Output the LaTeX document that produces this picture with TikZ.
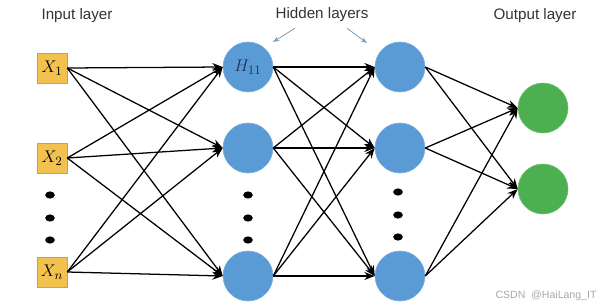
\documentclass[tikz,border=0pt]{standalone}
\usepackage{fontspec}
\setmainfont{Liberation Sans}
\usetikzlibrary{arrows.meta}
\definecolor{inboxc}{HTML}{F2C14E}
\definecolor{inboxedge}{HTML}{C9A24A}
\definecolor{hidc}{HTML}{5B9BD5}
\definecolor{outc}{HTML}{4CAF50}
\definecolor{labelc}{HTML}{333333}
\definecolor{pointc}{HTML}{7F9FB8}
\definecolor{markc}{HTML}{A8A8A8}
\definecolor{hname}{HTML}{1F2F5A}

\begin{document}
\begin{tikzpicture}[
  font=\fontsize{10.8}{13}\selectfont,
  inbox/.style={draw=inboxedge, fill=inboxc, minimum size=0.75cm, inner sep=0pt, font=\fontsize{13}{14}\selectfont},
  hidnode/.style={circle, fill=hidc, draw=hidc!80!white, minimum size=1.25cm, inner sep=0pt, font=\fontsize{13}{14}\selectfont},
  outnode/.style={circle, fill=outc, draw=outc!80!white, minimum size=1.25cm, inner sep=0pt},
  link/.style={-{Stealth[length=2.6mm,width=2mm]}, line width=0.9pt, draw=black},
  pointer/.style={-{Stealth[length=1.6mm,width=1.2mm]}, line width=0.6pt, draw=pointc}
]

\useasboundingbox (0,0) rectangle (15,-7.675);

% Layer titles
\node[text=labelc] (inlab) at (1.925,-0.4) {Input layer};
\node[text=labelc] (hidlab) at (8.05,-0.375) {Hidden layers};
\node[text=labelc] (outlab) at (13.375,-0.4) {Output layer};

% Input layer
\node[inbox] (x1) at (1.3,-1.7) {$X_1$};
\node[inbox] (x2) at (1.3,-3.95) {$X_2$};
\node[inbox] (xn) at (1.3,-6.8) {$X_n$};

% Hidden layer 1
\node[hidnode, text=hname] (h11) at (6.2,-1.675) {$H_{11}$};
\node[hidnode] (h12) at (6.2,-3.7) {};
\node[hidnode] (h1n) at (6.2,-6.9) {};

% Hidden layer 2
\node[hidnode] (h21) at (10,-1.675) {};
\node[hidnode] (h22) at (10,-3.7) {};
\node[hidnode] (h2n) at (10,-6.9) {};

% Output layer
\node[outnode] (o1) at (13.575,-2.7) {};
\node[outnode] (o2) at (13.575,-4.725) {};

% Vertical dots
\foreach \x/\y in {1.25/-4.875, 1.25/-5.45, 1.25/-6.0, 6.2/-4.875, 6.2/-5.45, 6.2/-6.0, 9.95/-4.8, 9.95/-5.375, 9.95/-5.925} {
  \fill[black] (\x,\y) ellipse (0.12 and 0.09);
}

% Connections
\foreach \a in {x1,x2,xn} {
  \foreach \b in {h11,h12,h1n} {
    \draw[link] (\a.east) -- (\b.west);
  }
}
\foreach \a in {h11,h12,h1n} {
  \foreach \b in {h21,h22,h2n} {
    \draw[link] (\a.east) -- (\b.west);
  }
}
\foreach \a in {h21,h22,h2n} {
  \foreach \b in {o1,o2} {
    \draw[link] (\a.east) -- (\b.west);
  }
}

% Pointers to hidden layers
\coordinate (pl) at (6.825,-1.05);
\coordinate (pr) at (9.175,-1.075);
\draw[pointer] ([xshift=-0.675cm,yshift=-0.03cm]hidlab.south) -- (pl);
\draw[pointer] ([xshift=0.625cm,yshift=-0.03cm]hidlab.south) -- (pr);

% Watermark
\node[text=markc, font=\fontsize{7.5}{9}\selectfont] (mark) at (13.65,-7.4) {CSDN\ \ @HaiLang\_IT};

\end{tikzpicture}
\end{document}
